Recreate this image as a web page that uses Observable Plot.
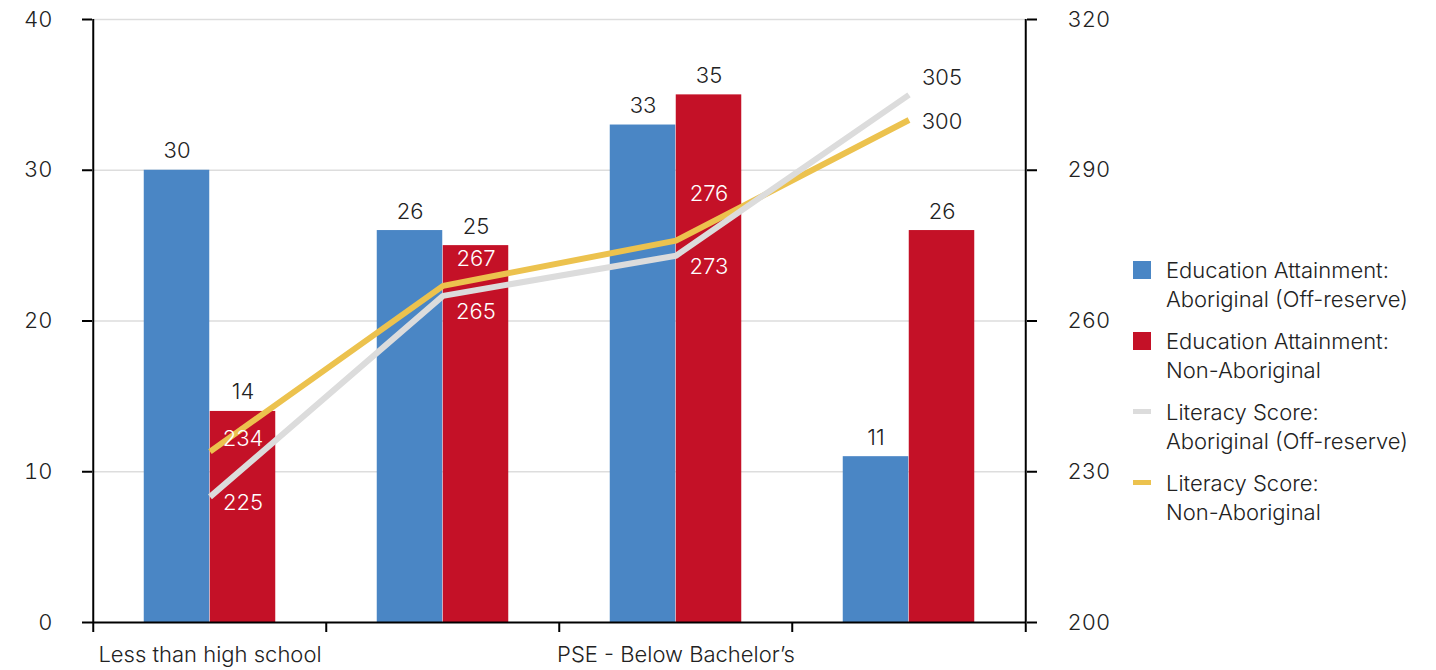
<!DOCTYPE html>
<html>
<head>
<meta charset="utf-8">
<script src="https://cdn.jsdelivr.net/npm/d3@7"></script>
<script src="https://cdn.jsdelivr.net/npm/@observablehq/plot@0.6"></script>
<style>
  html, body { margin: 0; padding: 0; background: #fff; }
  #wrap { position: relative; width: 1436px; height: 670px; font-family: Inter, "Liberation Sans", Arial, sans-serif; font-weight: 300; color: #222; }
  #legend { position: absolute; left: 1133px; top: 256px; font-size: 22px; line-height: 28.5px; }
  .item { display: flex; align-items: flex-start; margin-bottom: 14px; }
  .sw { width: 18px; flex: none; margin-right: 15px; }
  .sq { height: 18px; margin-top: 5px; }
  .ln { height: 5px; margin-top: 11px; }
</style>
</head>
<body>
<div id="wrap"><div id="legend"></div></div>
<script>
// Education categories (only every other label is printed on the axis)
const categories = ["Less than high school", "High school", "PSE - Below Bachelor’s", "Bachelor’s or above"];
const shownLabels = ["Less than high school", "PSE - Below Bachelor’s"];

// Education attainment, % (left axis)
const eduAboriginal = [30, 26, 33, 11];
const eduNonAboriginal = [14, 25, 35, 26];

// Literacy scores (right axis)
const litAboriginal = [225, 265, 273, 305];
const litNonAboriginal = [234, 267, 276, 300];

// Axis ticks
const leftTicks = [0, 10, 20, 30, 40];
const rightTicks = [200, 230, 260, 290, 320];

const seriesNames = [
  ["Education Attainment:", "Aboriginal (Off-reserve)"],
  ["Education Attainment:", "Non-Aboriginal"],
  ["Literacy Score:", "Aboriginal (Off-reserve)"],
  ["Literacy Score:", "Non-Aboriginal"]
];
const colors = ["#4a86c5", "#c41127", "#dcdcdc", "#ecc24e"];

// Right axis (200–320) is mapped linearly onto the left scale (0–40)
const rMin = rightTicks[0], rMax = rightTicks[rightTicks.length - 1];
const lMax = leftTicks[leftTicks.length - 1];
const toLeft = (s) => (s - rMin) / (rMax - rMin) * lMax;
const toRight = (v) => rMin + v / lMax * (rMax - rMin);

const W = 1110, H = 670;
const mL = 92, mR = 84, mT = 19, mB = 48;
const half = (W - mL - mR) / categories.length / 2;
const barW = 66;

const bars = categories.map((c, i) => ({category: c, aboriginal: eduAboriginal[i], non: eduNonAboriginal[i]}));
const litA = categories.map((c, i) => ({category: c, score: litAboriginal[i]}));
const litN = categories.map((c, i) => ({category: c, score: litNonAboriginal[i]}));

// Per-point vertical nudges for the literacy score labels
const nudgeN = [-13, -27, -47, 2];
const nudgeA = [6, 16, 11, -17];
const labelColor = (i) => (i === categories.length - 1 ? "#222" : "#fff");

const scoreLabels = [];
litN.forEach((d, i) => scoreLabels.push(Plot.text([d], {x: "category", y: (p) => toLeft(p.score), text: (p) => String(p.score), dx: 33, dy: nudgeN[i], fill: labelColor(i)})));
litA.forEach((d, i) => scoreLabels.push(Plot.text([d], {x: "category", y: (p) => toLeft(p.score), text: (p) => String(p.score), dx: 33, dy: nudgeA[i], fill: labelColor(i)})));

const chart = Plot.plot({
  width: W,
  height: H,
  marginLeft: mL,
  marginRight: mR,
  marginTop: mT,
  marginBottom: mB,
  style: {fontFamily: "Inter, 'Liberation Sans', Arial, sans-serif", fontWeight: 300, fontSize: "22px", color: "#222", background: "#fff"},
  x: {domain: categories, padding: 0, axis: null},
  y: {domain: [0, lMax], axis: null},
  marks: [
    Plot.gridY(leftTicks.filter((t) => t > 0), {stroke: "#dddddd", strokeOpacity: 1, strokeWidth: 1.5}),
    Plot.barY(bars, {x: "category", y: "aboriginal", fill: colors[0], insetLeft: half - barW, insetRight: half}),
    Plot.barY(bars, {x: "category", y: "non", fill: colors[1], insetLeft: half, insetRight: half - barW}),
    Plot.text(bars, {x: "category", y: "aboriginal", text: (d) => String(d.aboriginal), dx: -barW / 2, dy: -19, fill: "#222"}),
    Plot.text(bars, {x: "category", y: "non", text: (d) => String(d.non), dx: barW / 2, dy: -19, fill: "#222"}),
    Plot.line(litN, {x: "category", y: (d) => toLeft(d.score), stroke: colors[3], strokeWidth: 6, strokeLinecap: "butt"}),
    Plot.line(litA, {x: "category", y: (d) => toLeft(d.score), stroke: colors[2], strokeWidth: 6, strokeLinecap: "butt"}),
    ...scoreLabels,
    // frame: left, right and bottom
    Plot.ruleX([categories[0]], {dx: -half, stroke: "#000", strokeWidth: 2}),
    Plot.ruleX([categories[categories.length - 1]], {dx: half, stroke: "#000", strokeWidth: 2}),
    Plot.ruleY([0], {stroke: "#000", strokeWidth: 2}),
    // axes
    Plot.axisY({anchor: "left", ticks: leftTicks, tickSize: 10, tickPadding: 30, strokeWidth: 2, stroke: "#000", fill: "#222", label: null}),
    Plot.axisY({anchor: "right", ticks: leftTicks, tickFormat: (v) => String(toRight(v)), tickSize: 10, tickPadding: 31, strokeWidth: 2, stroke: "#000", fill: "#222", label: null}),
    Plot.axisX({anchor: "bottom", tickSize: 10, dx: -half, strokeWidth: 2, stroke: "#000", fill: "none", label: null}),
    Plot.axisX({anchor: "bottom", ticks: [categories[categories.length - 1]], tickSize: 10, dx: half, strokeWidth: 2, stroke: "#000", fill: "none", label: null}),
    Plot.axisX({anchor: "bottom", tickSize: 0, tickPadding: 24, tickFormat: (d) => (shownLabels.includes(d) ? d : ""), fill: "#222", label: null})
  ]
});
document.getElementById("wrap").prepend(chart);
chart.style.position = "absolute";
chart.style.left = "0px";
chart.style.top = "0px";

// Legend
const legend = d3.select("#legend");
seriesNames.forEach((lines, i) => {
  const item = legend.append("div").attr("class", "item");
  item.append("div").attr("class", "sw " + (i < 2 ? "sq" : "ln")).style("background", colors[i]);
  const txt = item.append("div");
  lines.forEach((l) => txt.append("div").text(l));
});
</script>
</body>
</html>
